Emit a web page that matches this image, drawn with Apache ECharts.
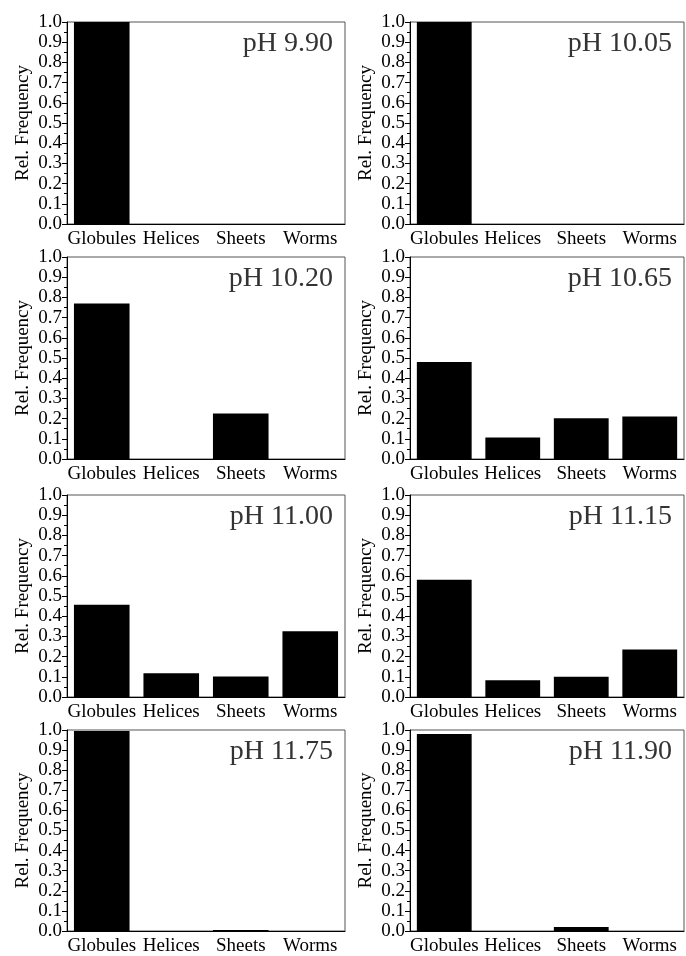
<!DOCTYPE html>
<html>
<head>
<meta charset="utf-8">
<title>Rel. Frequency</title>
<script src="https://cdn.jsdelivr.net/npm/echarts@6/dist/echarts.min.js"></script>
<style>
  html, body { margin: 0; padding: 0; background: #fff; }
  #chart { width: 686px; height: 956px; }
</style>
</head>
<body>
<div id="chart"></div>
<script>
    var categories = ['Globules', 'Helices', 'Sheets', 'Worms'];
    var yTicks = [0.0, 0.1, 0.2, 0.3, 0.4, 0.5, 0.6, 0.7, 0.8, 0.9, 1.0];

    // one panel per pH
    var phLabels = ['pH 9.90', 'pH 10.05', 'pH 10.20', 'pH 10.65',
                    'pH 11.00', 'pH 11.15', 'pH 11.75', 'pH 11.90'];
    var freq990  = [1.0, 0, 0, 0];
    var freq1005 = [1.0, 0, 0, 0];
    var freq1020 = [0.77, 0, 0.225, 0];
    var freq1065 = [0.48, 0.107, 0.202, 0.21];
    var freq1100 = [0.457, 0.118, 0.102, 0.325];
    var freq1115 = [0.58, 0.083, 0.1, 0.235];
    var freq1175 = [0.995, 0, 0.005, 0];
    var freq1190 = [0.98, 0, 0.02, 0];
    var allFreq = [freq990, freq1005, freq1020, freq1065, freq1100, freq1115, freq1175, freq1190];

    var font = 'Liberation Serif';
    var colLeft = [67, 410];
    var colWidth = [278, 274];
    var rowTop = [22, 257, 495, 730];
    var plotH = 202;

    var myChart = echarts.init(document.getElementById('chart'));
    var grids = [], xAxes = [], yAxes = [], series = [], titles = [];

    for (var i = 0; i < allFreq.length; i++) {
        var col = i % 2, row = Math.floor(i / 2);
        grids.push({
            left: colLeft[col], top: rowTop[row], width: colWidth[col], height: plotH,
            show: true, borderColor: '#555', borderWidth: 1, backgroundColor: '#fff'
        });
        xAxes.push({
            type: 'category', gridIndex: i, data: categories,
            axisLine: {lineStyle: {color: '#000', width: 1}},
            axisTick: {alignWithLabel: true, interval: 0, length: 4, lineStyle: {color: '#777'}},
            axisLabel: {color: '#000', fontFamily: font, fontSize: 19, margin: 6, interval: 0},
            splitLine: {show: false}
        });
        yAxes.push({
            type: 'value', gridIndex: i, min: 0, max: 1, interval: 0.1,
            name: 'Rel. Frequency', nameLocation: 'middle', nameGap: 34,
            nameTextStyle: {color: '#000', fontFamily: font, fontSize: 19},
            axisLine: {show: true, lineStyle: {color: '#000', width: 1}},
            axisTick: {show: true, length: 5, lineStyle: {color: '#000'}},
            minorTick: {show: true, splitNumber: 2, length: 3, lineStyle: {color: '#000'}},
            axisLabel: {
                color: '#000', fontFamily: font, fontSize: 19, margin: 5,
                formatter: function (v) {
                    var hit = yTicks.filter(function (t) { return Math.abs(t - v) < 1e-6; });
                    return hit.length ? hit[0].toFixed(1) : '';
                }
            },
            splitLine: {show: false}
        });
        series.push({
            type: 'bar', xAxisIndex: i, yAxisIndex: i, data: allFreq[i],
            barWidth: '80%',
            itemStyle: {color: '#000', borderWidth: 0},
            silent: true
        });
        titles.push({
            text: phLabels[i],
            right: 686 - (colLeft[col] + colWidth[col]) + 12,
            top: rowTop[row] + 8,
            padding: 0,
            textStyle: {color: '#333', fontFamily: font, fontSize: 28, fontWeight: 'normal'}
        });
    }

    myChart.setOption({
        animation: false,
        title: titles,
        grid: grids,
        xAxis: xAxes,
        yAxis: yAxes,
        series: series
    });
</script>
</body>
</html>
